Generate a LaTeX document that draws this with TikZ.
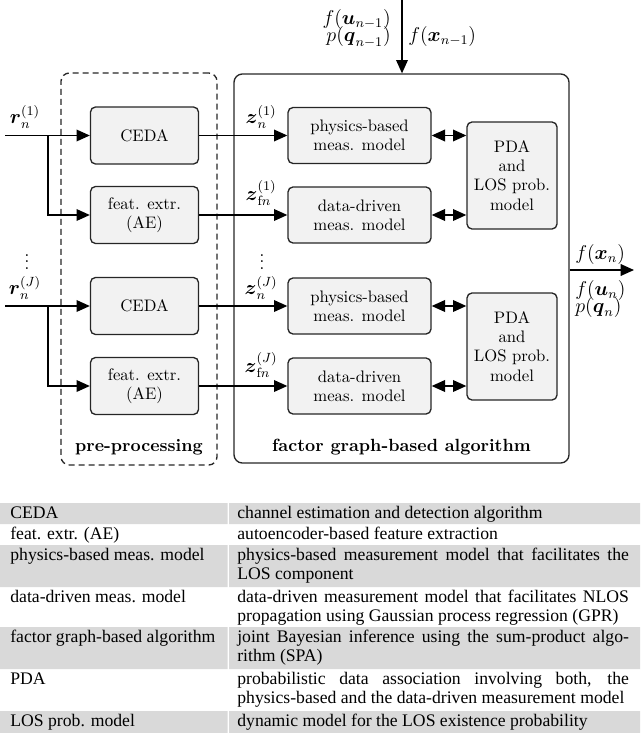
\documentclass[tikz,border=0pt]{standalone}
\usepackage{amsmath}
\usepackage{amssymb}
\usepackage{fontspec}
\newfontfamily\tabfont{Liberation Serif}
\usetikzlibrary{arrows.meta}
\definecolor{boxfill}{gray}{0.95}
\definecolor{rowgray}{gray}{0.85}

\begin{document}
\begin{tikzpicture}[x=0.6pt,y=-0.6pt,
  >={Triangle[length=8pt,width=7pt]},
  blk/.style={draw=black!85,fill=boxfill,line width=0.8pt,rounded corners=3pt,
    align=center,inner sep=0pt,font=\fontsize{10}{11.5}\selectfont},
  pre/.style={blk,minimum width=64.8pt,minimum height=34.2pt},
  meas/.style={blk,minimum width=85.8pt,minimum height=33.6pt},
  pda/.style={blk,minimum width=54pt,minimum height=64.2pt},
  frame/.style={draw=black!85,line width=0.8pt,rounded corners=5pt},
  lbl/.style={inner sep=0pt,font=\fontsize{11.5}{13}\selectfont},
  ttl/.style={font=\bfseries\fontsize{10.6}{12}\selectfont},
  tab/.style={font=\tabfont\fontsize{10.6}{11.4}\selectfont,inner sep=0pt},
  desc/.style={tab,text width=235pt,align=justify,anchor=north west}]
\useasboundingbox (0,0) rectangle (640,733);

\node[frame,dashed,dash pattern=on 3.6pt off 2.4pt,minimum width=93.6pt,minimum height=235.2pt] (pp) at (139,269) {};
\node[frame,minimum width=201pt,minimum height=233.4pt] (fg) at (401.5,268.5) {};
\node[ttl] (ppl) at (139,447) {pre-processing};
\node[ttl] (fgl) at (401.5,447) {factor graph-based algorithm};

\node[pre] (c1) at (144.5,135.5) {CEDA};
\node[pre] (f1) at (144.5,215) {feat. extr.\\(AE)};
\node[pre] (c2) at (144.5,306) {CEDA};
\node[pre] (f2) at (144.5,386) {feat. extr.\\(AE)};
\node[meas] (p1) at (359.5,135.5) {physics-based\\meas. model};
\node[meas] (d1) at (359.5,215) {data-driven\\meas. model};
\node[meas] (p2) at (359.5,306) {physics-based\\meas. model};
\node[meas] (d2) at (359.5,386) {data-driven\\meas. model};
\node[pda] (q1) at (512,175.5) {PDA\\and\\LOS prob.\\model};
\node[pda] (q2) at (512,346.5) {PDA\\and\\LOS prob.\\model};

\coordinate (i1) at (5,135.5);
\coordinate (b1) at (48,135.5);
\coordinate (i2) at (5,306);
\coordinate (b2) at (48,306);
\draw[line width=0.8pt,->] (i1) -- (c1);
\draw[line width=0.8pt,->] (b1) |- (f1.west);
\draw[line width=0.8pt,->] (i2) -- (c2);
\draw[line width=0.8pt,->] (b2) |- (f2.west);
\draw[line width=0.8pt,->] (c1) -- (p1);
\draw[line width=0.8pt,->] (f1) -- (d1);
\draw[line width=0.8pt,->] (c2) -- (p2);
\draw[line width=0.8pt,->] (f2) -- (d2);
\draw[line width=0.8pt,<->] (p1) -- (p1 -| q1.west);
\draw[line width=0.8pt,<->] (d1) -- (d1 -| q1.west);
\draw[line width=0.8pt,<->] (p2) -- (p2 -| q2.west);
\draw[line width=0.8pt,<->] (d2) -- (d2 -| q2.west);

\node[lbl] (r1) at (25,117) {$\boldsymbol{r}_n^{(1)}$};
\node[lbl] (rd) at (27,257) {$\vdots$};
\node[lbl] (rJ) at (25,288) {$\boldsymbol{r}_n^{(J)}$};
\node[lbl] (z1) at (261,117) {$\boldsymbol{z}_n^{(1)}$};
\node[lbl] (zf1) at (261,193) {$\boldsymbol{z}_{\mathrm{f}n}^{(1)}$};
\node[lbl] (zd) at (262,257) {$\vdots$};
\node[lbl] (zJ) at (261,288) {$\boldsymbol{z}_n^{(J)}$};
\node[lbl] (zfJ) at (261,365) {$\boldsymbol{z}_{\mathrm{f}n}^{(J)}$};

\coordinate (t) at (402,0);
\draw[line width=0.8pt,->] (t) -- (t |- fg.north);
\node[lbl,anchor=east] (tu) at (391,20) {$f(\boldsymbol{u}_{n-1})$};
\node[lbl,anchor=east] (tq) at (391,37) {$p(\boldsymbol{q}_{n-1})$};
\node[lbl,anchor=west] (tx) at (408,37) {$f(\boldsymbol{x}_{n-1})$};
\coordinate (o) at (634,270);
\draw[line width=0.8pt,->] (o -| fg.east) -- (o);
\node[lbl,anchor=west] (ox) at (575,254) {$f(\boldsymbol{x}_n)$};
\node[lbl,anchor=west] (ou) at (575,290) {$f(\boldsymbol{u}_n)$};
\node[lbl,anchor=west] (oq) at (575,307) {$p(\boldsymbol{q}_n)$};

\fill[rowgray] (0,503) rectangle (227.5,524) (229,503) rectangle (640,524);
\fill[rowgray] (0,545) rectangle (227.5,587) (229,545) rectangle (640,587);
\fill[rowgray] (0,627) rectangle (227.5,669) (229,627) rectangle (640,669);
\fill[rowgray] (0,711) rectangle (227.5,733) (229,711) rectangle (640,733);
\node[tab,anchor=base west] (k1) at (10,518) {CEDA};
\node[tab,anchor=base west] (k2) at (10,539) {feat. extr. (AE)};
\node[tab,anchor=base west] (k3) at (10,560) {physics-based meas. model};
\node[tab,anchor=base west] (k4) at (10,602) {data-driven meas. model};
\node[tab,anchor=base west] (k5) at (10,642) {factor graph-based algorithm};
\node[tab,anchor=base west] (k6) at (10,684) {PDA};
\node[tab,anchor=base west] (k7) at (10,726) {LOS prob. model};
\node[desc] (v1) at (237,505) {\strut channel estimation and detection algorithm};
\node[desc] (v2) at (237,526) {\strut autoencoder-based feature extraction};
\node[desc] (v3) at (237,547) {\strut physics-based measurement model that facilitates the\linebreak LOS component};
\node[desc] (v4) at (237,589) {\strut data-driven measurement model that facilitates NLOS\linebreak propagation using Gaussian process regression (GPR)};
\node[desc] (v5) at (237,629) {\strut joint Bayesian inference using the sum-product algo-\linebreak rithm (SPA)};
\node[desc] (v6) at (237,671) {\strut probabilistic data association involving both, the\linebreak physics-based and the data-driven measurement model};
\node[desc] (v7) at (237,713) {\strut dynamic model for the LOS existence probability};
\end{tikzpicture}
\end{document}
